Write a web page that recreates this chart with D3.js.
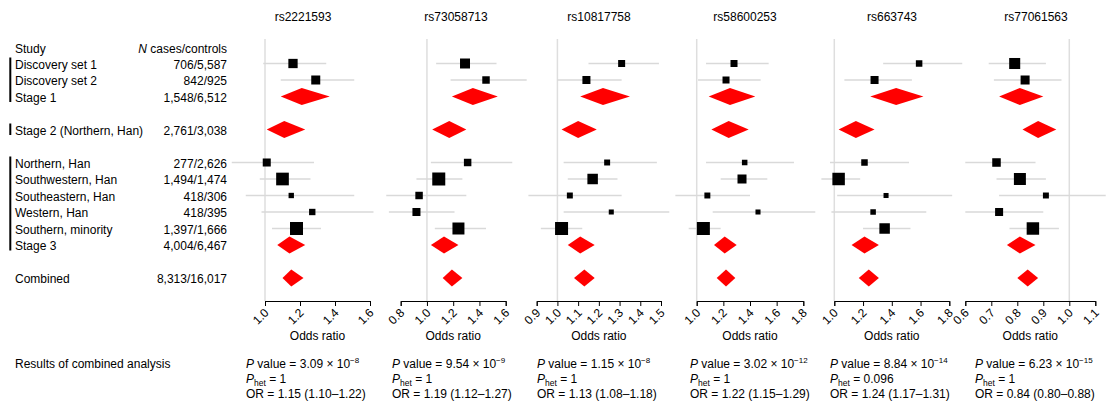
<!DOCTYPE html>
<html><head><meta charset="utf-8">
<script src="https://cdn.jsdelivr.net/npm/d3@7"></script>
<style>
body{margin:0;background:#fff}
svg{font-family:"Liberation Sans",Arial,Helvetica,sans-serif;font-size:12px;}
</style>
</head><body>
<svg id="chart" width="1111" height="410"></svg>
<script>
// ---------------- DATA ----------------
const rowLabels = ["Discovery set 1","Discovery set 2","Stage 1","Stage 2 (Northern, Han)","Northern, Han","Southwestern, Han","Southeastern, Han","Western, Han","Southern, minority","Stage 3","Combined"];
const rowCounts = ["706/5,587","842/925","1,548/6,512","2,761/3,038","277/2,626","1,494/1,474","418/306","418/395","1,397/1,666","4,004/6,467","8,313/16,017"];
const rowKind   = ["study","study","pooled","pooled","study","study","study","study","study","pooled","pooled"];
const snps = ["rs2221593","rs73058713","rs10817758","rs58600253","rs663743","rs77061563"];

// odds ratios, lower and upper CI bounds, relative weights (study rows only)
const rs2221593_or = [1.16,1.29,1.21,1.11,1.01,1.10,1.15,1.27,1.18,1.14,1.15];
const rs2221593_lo = [0.99,1.09,1.09,1.01,0.81,0.97,0.89,0.98,1.04,1.07,1.10];
const rs2221593_hi = [1.35,1.51,1.37,1.23,1.28,1.26,1.51,1.62,1.32,1.23,1.22];
const rs2221593_w  = [51,48,null,null,38,95,17,24,100,null,null];

const rs73058713_or = [1.29,1.45,1.35,1.17,1.31,1.09,0.94,0.92,1.24,1.13,1.19];
const rs73058713_lo = [1.07,1.18,1.19,1.04,1.03,0.92,0.69,0.71,1.06,1.03,1.12];
const rs73058713_hi = [1.53,1.76,1.54,1.30,1.65,1.27,1.30,1.21,1.45,1.24,1.27];
const rs73058713_w  = [59,33,null,null,33,100,33,38,85,null,null];

const rs10817758_or = [1.31,1.14,1.22,1.10,1.24,1.17,1.06,1.26,1.02,1.11,1.13];
const rs10817758_lo = [1.15,1.00,1.11,1.02,1.03,1.05,0.86,1.03,0.92,1.05,1.08];
const rs10817758_hi = [1.49,1.31,1.35,1.19,1.48,1.29,1.31,1.54,1.12,1.18,1.18];
const rs10817758_w  = [29,38,null,null,21,65,21,15,100,null,null];

const rs58600253_or = [1.28,1.22,1.25,1.24,1.36,1.34,1.08,1.46,1.05,1.21,1.22];
const rs58600253_lo = [1.07,1.01,1.09,1.11,1.07,1.18,0.84,1.12,0.94,1.13,1.15];
const rs58600253_hi = [1.54,1.48,1.44,1.39,1.73,1.53,1.40,1.89,1.18,1.30,1.29];
const rs58600253_w  = [29,29,null,null,18,48,21,15,100,null,null];

const rs663743_or = [1.59,1.28,1.43,1.15,1.21,1.03,1.36,1.27,1.35,1.21,1.24];
const rs663743_lo = [1.34,1.07,1.25,1.03,0.97,0.91,1.02,0.98,1.20,1.12,1.17];
const rs663743_hi = [1.89,1.54,1.62,1.28,1.52,1.18,1.82,1.64,1.53,1.31,1.31];
const rs663743_w  = [25,38,null,null,25,92,15,18,65,null,null];

const rs77061563_or = [0.79,0.83,0.81,0.88,0.72,0.81,0.91,0.73,0.86,0.81,0.84];
const rs77061563_lo = [0.69,0.71,0.73,0.82,0.60,0.72,0.73,0.60,0.77,0.76,0.80];
const rs77061563_hi = [0.91,0.97,0.90,0.95,0.87,0.91,1.14,0.90,0.96,0.87,0.88];
const rs77061563_w  = [72,48,null,null,43,85,21,38,92,null,null];

const axisTicks = [
  [1.0,1.2,1.4,1.6],
  [0.8,1.0,1.2,1.4,1.6],
  [0.9,1.0,1.1,1.2,1.3,1.4,1.5],
  [1.0,1.2,1.4,1.6,1.8],
  [1.0,1.2,1.4,1.6,1.8],
  [0.6,0.7,0.8,0.9,1.0,1.1]
];
const pMantissa = ["3.09","9.54","1.15","3.02","8.84","6.23"];
const pExponent = ["\u22128","\u22129","\u22128","\u221212","\u221214","\u221215"];
const pHet      = ["1","1","1","1","0.096","1"];
const orCombined = ["1.15 (1.10\u20131.22)","1.19 (1.12\u20131.27)","1.13 (1.08\u20131.18)","1.22 (1.15\u20131.29)","1.24 (1.17\u20131.31)","0.84 (0.80\u20130.88)"];

const seriesOR = [rs2221593_or,rs73058713_or,rs10817758_or,rs58600253_or,rs663743_or,rs77061563_or];
const seriesLo = [rs2221593_lo,rs73058713_lo,rs10817758_lo,rs58600253_lo,rs663743_lo,rs77061563_lo];
const seriesHi = [rs2221593_hi,rs73058713_hi,rs10817758_hi,rs58600253_hi,rs663743_hi,rs77061563_hi];
const seriesW  = [rs2221593_w,rs73058713_w,rs10817758_w,rs58600253_w,rs663743_w,rs77061563_w];

// ---------------- LAYOUT ----------------
const rowSlot = [0,1,2,4,6,7,8,9,10,11,13];
const rowY = d3.scaleLinear().domain([0,1]).range([63.5,80]);
const panelRange = [[265,370],[400.7,505.7],[536.7,661],[696.7,803.3],[834.3,949.3],[965.3,1095.3]];
const titleX = [303,456,599,745,892,1036];
const bottomX = [246,392,537,690,830,975];
const axisY = 301;
const refTop = 39;
const diamondHalf = 8.5;
const sizeScale = d3.scaleSqrt().domain([0,100]).range([0,13]);
const grey = "#d9d9d9";

const svg = d3.select("#chart");

// left table
svg.append("text").attr("x",15).attr("y",52.5).text("Study");
const hdr = svg.append("text").attr("x",227).attr("y",52.5).attr("text-anchor","end");
hdr.append("tspan").attr("font-style","italic").text("N");
hdr.append("tspan").text(" cases/controls");

rowLabels.forEach((lab,i)=>{
  const y = rowY(rowSlot[i]);
  svg.append("text").attr("x",15).attr("y",y+5).text(lab);
  svg.append("text").attr("x",227).attr("y",y+5).attr("text-anchor","end").text(rowCounts[i]);
});
// grouping bars
[[0,2],[3,3],[4,9]].forEach(([a,b])=>{
  svg.append("rect").attr("x",9.3).attr("width",2)
    .attr("y",rowY(rowSlot[a])-6).attr("height",rowY(rowSlot[b])-rowY(rowSlot[a])+11.5)
    .attr("fill","#000");
});

// panels
snps.forEach((snp,p)=>{
  const ticks = axisTicks[p];
  const x = d3.scaleLinear().domain([ticks[0],ticks[ticks.length-1]]).range(panelRange[p]);
  const g = svg.append("g");
  g.append("text").attr("x",titleX[p]).attr("y",21).attr("text-anchor","middle").text(snp);
  // reference line at OR = 1
  g.append("line").attr("x1",x(1)).attr("x2",x(1)).attr("y1",refTop).attr("y2",axisY)
    .attr("stroke","#dedede").attr("stroke-width",1.5);
  // axis
  const ax = g.append("g").attr("transform",`translate(0,${axisY})`)
    .call(d3.axisBottom(x).tickValues(ticks).tickFormat(d3.format(".1f")).tickSize(5).tickSizeOuter(5));
  ax.select(".domain").attr("stroke","#000");
  ax.selectAll(".tick line").attr("stroke","#000");
  ax.selectAll(".tick text")
    .attr("font-size",12).attr("font-family","Liberation Sans, Arial, sans-serif")
    .attr("fill","#000")
    .attr("text-anchor","end").attr("x",0).attr("y",0).attr("dy","0.35em")
    .attr("transform","translate(1,9.5) rotate(-45)");
  g.append("text").attr("x",(panelRange[p][0]+panelRange[p][1])/2).attr("y",339.5)
    .attr("text-anchor","middle").text("Odds ratio");

  const rows = rowLabels.map((l,i)=>({i, y:rowY(rowSlot[i]), or:seriesOR[p][i], lo:seriesLo[p][i], hi:seriesHi[p][i], w:seriesW[p][i], kind:rowKind[i]}));
  const studies = rows.filter(r=>r.kind==="study");
  const pooled = rows.filter(r=>r.kind==="pooled");
  g.selectAll("line.ci").data(studies).enter().append("line").attr("class","ci")
    .attr("x1",d=>x(d.lo)).attr("x2",d=>x(d.hi)).attr("y1",d=>d.y).attr("y2",d=>d.y)
    .attr("stroke",grey).attr("stroke-width",1.5);
  g.selectAll("rect.sq").data(studies).enter().append("rect").attr("class","sq")
    .attr("x",d=>x(d.or)-sizeScale(d.w)/2).attr("y",d=>d.y-sizeScale(d.w)/2)
    .attr("width",d=>sizeScale(d.w)).attr("height",d=>sizeScale(d.w)).attr("fill","#000");
  g.selectAll("polygon.dm").data(pooled).enter().append("polygon").attr("class","dm")
    .attr("points",d=>[[x(d.lo),d.y],[x(d.or),d.y-diamondHalf],[x(d.hi),d.y],[x(d.or),d.y+diamondHalf]].map(q=>q.join(",")).join(" "))
    .attr("fill","#ff0000");

  // combined results text
  const bx = bottomX[p];
  const t1 = svg.append("text").attr("x",bx).attr("y",368);
  t1.append("tspan").attr("font-style","italic").text("P");
  t1.append("tspan").text(` value = ${pMantissa[p]} \u00d7 10`);
  t1.append("tspan").attr("font-size",8).attr("dy",-5).text(pExponent[p]);
  const t2 = svg.append("text").attr("x",bx).attr("y",383);
  t2.append("tspan").attr("font-style","italic").text("P");
  t2.append("tspan").attr("font-size",8.5).attr("dy",3).text("het");
  t2.append("tspan").attr("dy",-3).text(` = ${pHet[p]}`);
  svg.append("text").attr("x",bx).attr("y",398).text(`OR = ${orCombined[p]}`);
});
svg.append("text").attr("x",15).attr("y",368).text("Results of combined analysis");
</script>
</body></html>
